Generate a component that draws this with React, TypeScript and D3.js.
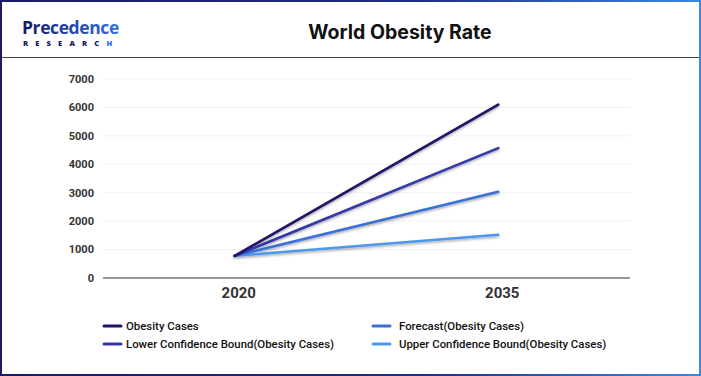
import React, { useEffect, useRef } from "react";
import * as d3 from "d3";

const years = ["2020", "2035"];
const seriesNames = [
  "Obesity Cases",
  "Lower Confidence Bound(Obesity Cases)",
  "Forecast(Obesity Cases)",
  "Upper Confidence Bound(Obesity Cases)",
];
const obesityCases = [780, 6100];
const lowerBound = [780, 4570];
const forecast = [780, 3030];
const upperBound = [780, 1520];
const seriesColors = ["#221266", "#3437a8", "#3a6fd4", "#4b98ec"];
const yTicks = [0, 1000, 2000, 3000, 4000, 5000, 6000, 7000];
const title = "World Obesity Rate";

const W = 701;
const H = 376;

export default function App() {
  const ref = useRef<SVGSVGElement | null>(null);

  useEffect(() => {
    const svg = d3.select(ref.current);
    svg.selectAll("*").remove();

    const defs = svg.append("defs");
    const bg = defs.append("linearGradient").attr("id", "borderGrad").attr("x1", "0").attr("x2", "1").attr("y1", "0").attr("y2", "0");
    bg.append("stop").attr("offset", "0%").attr("stop-color", "#1a1a5c");
    bg.append("stop").attr("offset", "60%").attr("stop-color", "#1e2f80");
    bg.append("stop").attr("offset", "100%").attr("stop-color", "#3f86e6");
    const lg = defs.append("linearGradient").attr("id", "logoGrad").attr("x1", "0").attr("x2", "1").attr("y1", "0").attr("y2", "0");
    lg.append("stop").attr("offset", "0%").attr("stop-color", "#151a60");
    lg.append("stop").attr("offset", "35%").attr("stop-color", "#1f3a9a");
    lg.append("stop").attr("offset", "100%").attr("stop-color", "#2f6fe0");
    const sh = defs.append("filter").attr("id", "shadow").attr("x", "-10%").attr("y", "-20%").attr("width", "120%").attr("height", "140%");
    sh.append("feDropShadow").attr("dx", 0).attr("dy", 1.5).attr("stdDeviation", 1.2).attr("flood-color", "#000").attr("flood-opacity", 0.35);

    svg.append("rect").attr("x", 0).attr("y", 0).attr("width", W).attr("height", H).attr("fill", "#fff");

    // header divider
    svg.append("line").attr("x1", 0).attr("x2", W).attr("y1", 57.5).attr("y2", 57.5).attr("stroke", "#444").attr("stroke-width", 1.2);

    // logo
    svg.append("text").attr("x", 22).attr("y", 33.5).attr("font-family", "Open Sans, sans-serif").attr("font-weight", 700)
      .attr("font-size", 17.5).attr("fill", "url(#logoGrad)").attr("letter-spacing", -0.4).text("Precedence");
    const rs = svg.append("text").attr("x", 23).attr("y", 46).attr("font-family", "Open Sans, sans-serif").attr("font-weight", 800)
      .attr("font-size", 7.5).attr("letter-spacing", 7.2).attr("fill", "#151a60");
    rs.append("tspan").text("RESEARC");
    rs.append("tspan").attr("fill", "#2f6fe0").text("H");

    // title
    svg.append("text").attr("x", 400).attr("y", 39).attr("text-anchor", "middle").attr("font-family", "Inter, sans-serif")
      .attr("font-weight", 700).attr("font-size", 19.5).attr("fill", "#111").text(title);

    const x = d3.scalePoint<string>().domain(years).range([103, 630]).padding(0.5);
    const y = d3.scaleLinear().domain([0, 7000]).range([278, 79]);

    // gridlines
    svg.append("g").selectAll("line").data(yTicks.filter((t) => t > 0)).join("line")
      .attr("x1", 103).attr("x2", 630).attr("y1", (d) => y(d)).attr("y2", (d) => y(d))
      .attr("stroke", "#f1f1f1").attr("stroke-width", 1);

    // y labels
    svg.append("g").selectAll("text").data(yTicks).join("text")
      .attr("x", 94).attr("y", (d) => y(d)).attr("dy", "0.35em").attr("text-anchor", "end")
      .attr("font-family", "Roboto, sans-serif").attr("font-weight", 700).attr("font-size", 11).attr("fill", "#333")
      .text((d) => String(d));

    // baseline
    svg.append("line").attr("x1", 103).attr("x2", 630).attr("y1", y(0)).attr("y2", y(0)).attr("stroke", "#333").attr("stroke-width", 1.2);

    // x labels
    svg.append("g").selectAll("text").data(years).join("text")
      .attr("x", (d) => (x(d) as number) + 4).attr("y", 298).attr("text-anchor", "middle")
      .attr("font-family", "Roboto, sans-serif").attr("font-weight", 700).attr("font-size", 15).attr("fill", "#333")
      .text((d) => d);

    const allSeries = [obesityCases, lowerBound, forecast, upperBound];
    const line = d3.line<number>().x((_, i) => x(years[i]) as number).y((d) => y(d));
    const order = [3, 2, 1, 0];
    svg.append("g").attr("filter", "url(#shadow)").selectAll("path").data(order).join("path")
      .attr("d", (i) => line(allSeries[i]))
      .attr("fill", "none").attr("stroke", (i) => seriesColors[i]).attr("stroke-width", 2.6).attr("stroke-linecap", "round");

    // legend
    const legendPos = [
      { mx: 104, tx: 126, y: 326 },
      { mx: 104, tx: 126, y: 344 },
      { mx: 373, tx: 399, y: 326 },
      { mx: 373, tx: 399, y: 344 },
    ];
    const lgG = svg.append("g");
    seriesNames.forEach((name, i) => {
      const p = legendPos[i];
      lgG.append("line").attr("x1", p.mx).attr("x2", p.mx + 17).attr("y1", p.y).attr("y2", p.y)
        .attr("stroke", seriesColors[i]).attr("stroke-width", 3).attr("stroke-linecap", "round");
      lgG.append("text").attr("x", p.tx).attr("y", p.y).attr("dy", "0.35em")
        .attr("font-family", "Roboto, sans-serif").attr("font-weight", 500).attr("font-size", 11.4).attr("fill", "#111")
        .text(name);
    });

    // border
    svg.append("rect").attr("x", 1).attr("y", 1).attr("width", W - 2).attr("height", H - 2)
      .attr("fill", "none").attr("stroke", "url(#borderGrad)").attr("stroke-width", 2);
  }, []);

  return (
    <svg ref={ref} width={W} height={H} style={{ position: "fixed", left: 0, top: 0, display: "block" }} />
  );
}
